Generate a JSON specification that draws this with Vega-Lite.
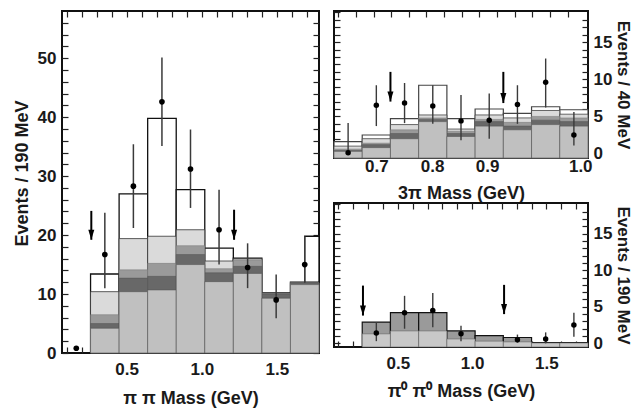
{
"$schema":"https://vega.github.io/schema/vega-lite/v6.json",
"padding":{"left":12,"top":9,"right":0,"bottom":0},
"spacing":11,
"config":{"font":"Liberation Sans","view":{"stroke":"#111","strokeWidth":2},
"axis":{"domain":false,"grid":false,"tickColor":"#222","tickWidth":1.2,"tickSize":-6,"labelFont":"Liberation Sans","labelFontWeight":"bold","labelFontSize":17,"labelColor":"#1a1a1a","titleFont":"Liberation Sans","titleFontWeight":"bold","titleFontSize":18,"titleColor":"#1a1a1a","labelPadding":14,"labelOverlap":false,"labelFlush":false,"labelBound":false}},
"datasets":{
"lb":[
{"lo":1.685,"hi":1.78,"outline":19.8},
{"lo":0.26,"hi":0.45,"outline":13.4,"hatch":10.4,"dotted":6.5,"dark":5.0,"cross":4.2},
{"lo":0.45,"hi":0.64,"outline":27.0,"hatch":19.4,"dotted":14.1,"dark":12.7,"cross":10.4},
{"lo":0.64,"hi":0.83,"outline":39.8,"hatch":19.8,"dotted":15.2,"dark":13.0,"cross":10.7},
{"lo":0.83,"hi":1.02,"outline":27.7,"hatch":20.9,"dotted":18.2,"dark":16.7,"cross":15.0},
{"lo":1.02,"hi":1.21,"outline":17.8,"hatch":15.6,"dotted":14.3,"dark":13.6,"cross":12.1},
{"lo":1.21,"hi":1.40,"outline":16.1,"hatch":16.0,"dotted":15.8,"dark":14.7,"cross":13.5},
{"lo":1.40,"hi":1.59,"outline":10.2,"hatch":10.1,"dotted":10.1,"dark":10.0,"cross":9.3},
{"lo":1.59,"hi":1.78,"outline":12.0,"hatch":11.95,"dotted":11.9,"dark":11.9,"cross":11.6}],
"lp":[
{"x":0.165,"y":0.8},
{"x":0.355,"y":16.7,"lo":11.0,"hi":23.8},
{"x":0.545,"y":28.3,"lo":21.2,"hi":35.4},
{"x":0.735,"y":42.6,"lo":35.1,"hi":50.1},
{"x":0.925,"y":31.2,"lo":24.6,"hi":37.9},
{"x":1.115,"y":20.9,"lo":15.0,"hi":27.7},
{"x":1.305,"y":14.5,"lo":11.0,"hi":18.6},
{"x":1.495,"y":9.0,"lo":5.9,"hi":13.3},
{"x":1.685,"y":15.0,"lo":11.9,"hi":19.8}],
"la":[{"x":0.265,"top":24.1,"tip":19.2},{"x":1.215,"top":24.3,"tip":19.2}],
"tb":[
{"lo":0.64,"hi":0.68,"outline":1.6,"hatch":1.0,"dotted":0.6,"dark":0.4,"cross":0.3},
{"lo":0.68,"hi":0.72,"outline":2.5,"hatch":2.0,"dotted":1.4,"dark":1.2,"cross":0.8},
{"lo":0.72,"hi":0.76,"outline":4.7,"hatch":3.9,"dotted":3.2,"dark":2.7,"cross":2.0},
{"lo":0.76,"hi":0.80,"outline":9.2,"hatch":5.2,"dotted":4.8,"dark":4.6,"cross":4.3},
{"lo":0.80,"hi":0.84,"outline":4.7,"hatch":3.3,"dotted":3.0,"dark":2.7,"cross":2.3},
{"lo":0.84,"hi":0.88,"outline":6.0,"hatch":5.2,"dotted":4.6,"dark":4.3,"cross":3.7},
{"lo":0.88,"hi":0.92,"outline":5.4,"hatch":4.8,"dotted":4.2,"dark":3.7,"cross":3.2},
{"lo":0.92,"hi":0.96,"outline":6.3,"hatch":5.8,"dotted":5.0,"dark":4.5,"cross":3.9},
{"lo":0.96,"hi":1.00,"outline":5.9,"hatch":5.3,"dotted":4.8,"dark":4.3,"cross":3.7}],
"tp":[
{"x":0.66,"y":0.1,"lo":0.0,"hi":4.1},
{"x":0.70,"y":6.5,"lo":3.7,"hi":9.2},
{"x":0.74,"y":6.8,"lo":4.1,"hi":9.5},
{"x":0.78,"y":6.4,"lo":4.0,"hi":9.2},
{"x":0.82,"y":4.4,"lo":1.8,"hi":7.9},
{"x":0.86,"y":4.5,"lo":2.0,"hi":8.1},
{"x":0.90,"y":6.6,"lo":4.0,"hi":9.2},
{"x":0.94,"y":9.6,"lo":6.2,"hi":12.8},
{"x":0.98,"y":2.5,"lo":1.1,"hi":5.6}],
"ta":[{"x":0.72,"top":11.0,"tip":7.0},{"x":0.88,"top":11.0,"tip":6.8}],
"bb":[
{"lo":0.26,"hi":0.45,"outline":2.9,"cross":1.3},
{"lo":0.45,"hi":0.64,"outline":4.2,"cross":1.7},
{"lo":0.64,"hi":0.83,"outline":4.2,"cross":1.7},
{"lo":0.83,"hi":1.02,"outline":1.7,"cross":0.6},
{"lo":1.02,"hi":1.21,"outline":1.05,"cross":0.3},
{"lo":1.21,"hi":1.40,"outline":0.8,"cross":0.2},
{"lo":1.40,"hi":1.59,"outline":0.1,"cross":0.05},
{"lo":1.59,"hi":1.78,"outline":0.1,"cross":0.05}],
"bp":[
{"x":0.355,"y":1.4,"lo":0.3,"hi":2.9},
{"x":0.545,"y":4.2,"lo":2.0,"hi":6.5},
{"x":0.735,"y":4.5,"lo":2.2,"hi":6.9},
{"x":0.925,"y":1.3,"lo":0.3,"hi":2.4},
{"x":1.305,"y":0.5,"lo":0.1,"hi":1.2},
{"x":1.495,"y":0.6,"lo":0.0,"hi":1.5},
{"x":1.685,"y":2.5,"lo":0.9,"hi":4.2}],
"ba":[{"x":0.265,"top":7.9,"tip":3.8},{"x":1.215,"top":8.0,"tip":4.0}]
},
"hconcat":[
{"width":257,"height":342,
"resolve":{"axis":{"x":"independent","y":"independent"}},
"layer":[
{"data":{"name":"lb"},"mark":{"type":"rect","fill":"white","stroke":"#111","strokeWidth":1.3},
"encoding":{
"x":{"field":"lo","type":"quantitative","scale":{"domain":[0.07,1.78],"nice":false,"zero":false},
"axis":{"orient":"bottom","values":[0.1,0.2,0.3,0.4,0.5,0.6,0.7,0.8,0.9,1.0,1.1,1.2,1.3,1.4,1.5,1.6,1.7],"labelExpr":"(datum.value==0.5||datum.value==1||datum.value==1.5)?format(datum.value,'.1f'):''","title":"π π  Mass (GeV)","titlePadding":12}},
"x2":{"field":"hi"},
"y":{"field":"outline","type":"quantitative","scale":{"domain":[0,58],"nice":false,"zero":false},
"axis":{"orient":"left","values":[0,2,4,6,8,10,12,14,16,18,20,22,24,26,28,30,32,34,36,38,40,42,44,46,48,50,52,54,56],"labelExpr":"datum.value%10==0?datum.label:''","labelPadding":12,"title":"Events / 190 MeV","titlePadding":6,"titleY":162}},
"y2":{"datum":0}}},
{"data":{"name":"lb"},"mark":{"type":"rect","fill":"#dadada","stroke":"#333","strokeWidth":0.8},
"encoding":{
"x":{"field":"lo","type":"quantitative","scale":{"domain":[0.07,1.78],"nice":false,"zero":false},
"axis":{"orient":"top","values":[0.1,0.2,0.3,0.4,0.5,0.6,0.7,0.8,0.9,1.0,1.1,1.2,1.3,1.4,1.5,1.6,1.7],"labels":false,"title":null}},
"x2":{"field":"hi"},
"y":{"field":"hatch","type":"quantitative","scale":{"domain":[0,58],"nice":false,"zero":false},
"axis":{"orient":"right","values":[0,2,4,6,8,10,12,14,16,18,20,22,24,26,28,30,32,34,36,38,40,42,44,46,48,50,52,54,56],"labels":false,"title":null}},
"y2":{"datum":0}}},
{"data":{"name":"lb"},"mark":{"type":"rect","fill":"#9a9a9a","stroke":"#777","strokeWidth":0.5},
"encoding":{"x":{"field":"lo","type":"quantitative","scale":{"domain":[0.07,1.78],"nice":false,"zero":false},"axis":null},"x2":{"field":"hi"},
"y":{"field":"dotted","type":"quantitative","scale":{"domain":[0,58],"nice":false,"zero":false},"axis":null},"y2":{"datum":0}}},
{"data":{"name":"lb"},"mark":{"type":"rect","fill":"#686868","stroke":"#555","strokeWidth":0.5},
"encoding":{"x":{"field":"lo","type":"quantitative","scale":{"domain":[0.07,1.78],"nice":false,"zero":false},"axis":null},"x2":{"field":"hi"},
"y":{"field":"dark","type":"quantitative","scale":{"domain":[0,58],"nice":false,"zero":false},"axis":null},"y2":{"datum":0}}},
{"data":{"name":"lb"},"mark":{"type":"rect","fill":"#c0c0c0","stroke":"#555","strokeWidth":0.6},
"encoding":{"x":{"field":"lo","type":"quantitative","scale":{"domain":[0.07,1.78],"nice":false,"zero":false},"axis":null},"x2":{"field":"hi"},
"y":{"field":"cross","type":"quantitative","scale":{"domain":[0,58],"nice":false,"zero":false},"axis":null},"y2":{"datum":0}}},
{"data":{"name":"lp"},"mark":{"type":"rule","color":"#3a3a3a","strokeWidth":1.5},
"encoding":{"x":{"field":"x","type":"quantitative","scale":{"domain":[0.07,1.78],"nice":false,"zero":false},"axis":null},
"y":{"field":"lo","type":"quantitative","scale":{"domain":[0,58],"nice":false,"zero":false},"axis":null},"y2":{"field":"hi"}}},
{"data":{"name":"lp"},"mark":{"type":"point","filled":true,"color":"#000","size":32,"opacity":1},
"encoding":{"x":{"field":"x","type":"quantitative","scale":{"domain":[0.07,1.78],"nice":false,"zero":false},"axis":null},
"y":{"field":"y","type":"quantitative","scale":{"domain":[0,58],"nice":false,"zero":false},"axis":null}}},
{"data":{"name":"la"},"mark":{"type":"rule","color":"#000","strokeWidth":2},
"encoding":{"x":{"field":"x","type":"quantitative","scale":{"domain":[0.07,1.78],"nice":false,"zero":false},"axis":null},
"y":{"field":"top","type":"quantitative","scale":{"domain":[0,58],"nice":false,"zero":false},"axis":null},"y2":{"field":"tip"}}},
{"data":{"name":"la"},"mark":{"type":"point","filled":true,"color":"#000","size":100,"opacity":1,"shape":"M-0.6,-1L0.6,-1L0,1Z","yOffset":-5},
"encoding":{"x":{"field":"x","type":"quantitative","scale":{"domain":[0.07,1.78],"nice":false,"zero":false},"axis":null},
"y":{"field":"tip","type":"quantitative","scale":{"domain":[0,58],"nice":false,"zero":false},"axis":null}}}
]},
{"spacing":-4,
"vconcat":[
{"width":254,"height":147,
"resolve":{"axis":{"x":"independent","y":"independent"}},
"layer":[
{"data":{"name":"tb"},"mark":{"type":"rect","fill":"white","stroke":"#444","strokeWidth":1.2},
"encoding":{
"x":{"field":"lo","type":"quantitative","scale":{"domain":[0.64,1.0],"nice":false,"zero":false},
"axis":{"orient":"bottom","values":[0.70,0.779,0.857,0.989],"ticks":false,"labelPadding":0,"labelExpr":"datum.value<0.75?'0.7':datum.value<0.82?'0.8':datum.value<0.9?'0.9':'1.0'","title":"3π  Mass (GeV)","titlePadding":10}},
"x2":{"field":"hi"},
"y":{"field":"outline","type":"quantitative","scale":{"domain":[-0.6,19.2],"nice":false,"zero":false},
"axis":{"orient":"right","values":[0,1,2,3,4,5,6,7,8,9,10,11,12,13,14,15,16,17,18],"labelExpr":"datum.value%5==0?datum.label:''","labelPadding":11,"title":"Events / 40 MeV","titleFontSize":17,"titlePadding":2}},
"y2":{"datum":-0.6}}},
{"data":{"name":"tb"},"mark":{"type":"rect","fill":"#dadada","stroke":"#444","strokeWidth":0.8},
"encoding":{
"x":{"field":"lo","type":"quantitative","scale":{"domain":[0.64,1.0],"nice":false,"zero":false},
"axis":{"orient":"top","values":[0.646,0.671,0.696,0.721,0.746,0.771,0.796,0.821,0.846,0.871,0.896,0.921,0.946,0.971],"labels":false,"title":null}},
"x2":{"field":"hi"},
"y":{"field":"hatch","type":"quantitative","scale":{"domain":[-0.6,19.2],"nice":false,"zero":false},
"axis":{"orient":"left","values":[0,1,2,3,4,5,6,7,8,9,10,11,12,13,14,15,16,17,18,19],"labels":false,"title":null}},
"y2":{"datum":-0.6}}},
{"data":{"name":"tb"},"mark":{"type":"rect","fill":"#9a9a9a","stroke":"#777","strokeWidth":0.5},
"encoding":{"x":{"field":"lo","type":"quantitative","scale":{"domain":[0.64,1.0],"nice":false,"zero":false},
"axis":{"orient":"bottom","values":[0.646,0.671,0.696,0.721,0.746,0.771,0.796,0.821,0.846,0.871,0.896,0.921,0.946,0.971],"labels":false,"title":null}},"x2":{"field":"hi"},
"y":{"field":"dotted","type":"quantitative","scale":{"domain":[-0.6,19.2],"nice":false,"zero":false},"axis":null},"y2":{"datum":-0.6}}},
{"data":{"name":"tb"},"mark":{"type":"rect","fill":"#686868","stroke":"#555","strokeWidth":0.5},
"encoding":{"x":{"field":"lo","type":"quantitative","scale":{"domain":[0.64,1.0],"nice":false,"zero":false},"axis":null},"x2":{"field":"hi"},
"y":{"field":"dark","type":"quantitative","scale":{"domain":[-0.6,19.2],"nice":false,"zero":false},"axis":null},"y2":{"datum":-0.6}}},
{"data":{"name":"tb"},"mark":{"type":"rect","fill":"#c0c0c0","stroke":"#555","strokeWidth":0.6},
"encoding":{"x":{"field":"lo","type":"quantitative","scale":{"domain":[0.64,1.0],"nice":false,"zero":false},"axis":null},"x2":{"field":"hi"},
"y":{"field":"cross","type":"quantitative","scale":{"domain":[-0.6,19.2],"nice":false,"zero":false},"axis":null},"y2":{"datum":-0.6}}},
{"data":{"name":"tp"},"mark":{"type":"rule","color":"#3a3a3a","strokeWidth":1.4},
"encoding":{"x":{"field":"x","type":"quantitative","scale":{"domain":[0.64,1.0],"nice":false,"zero":false},"axis":null},
"y":{"field":"lo","type":"quantitative","scale":{"domain":[-0.6,19.2],"nice":false,"zero":false},"axis":null},"y2":{"field":"hi"}}},
{"data":{"name":"tp"},"mark":{"type":"point","filled":true,"color":"#000","size":30,"opacity":1},
"encoding":{"x":{"field":"x","type":"quantitative","scale":{"domain":[0.64,1.0],"nice":false,"zero":false},"axis":null},
"y":{"field":"y","type":"quantitative","scale":{"domain":[-0.6,19.2],"nice":false,"zero":false},"axis":null}}},
{"data":{"name":"ta"},"mark":{"type":"rule","color":"#000","strokeWidth":2},
"encoding":{"x":{"field":"x","type":"quantitative","scale":{"domain":[0.64,1.0],"nice":false,"zero":false},"axis":null},
"y":{"field":"top","type":"quantitative","scale":{"domain":[-0.6,19.2],"nice":false,"zero":false},"axis":null},"y2":{"field":"tip"}}},
{"data":{"name":"ta"},"mark":{"type":"point","filled":true,"color":"#000","size":100,"opacity":1,"shape":"M-0.6,-1L0.6,-1L0,1Z","yOffset":-5},
"encoding":{"x":{"field":"x","type":"quantitative","scale":{"domain":[0.64,1.0],"nice":false,"zero":false},"axis":null},
"y":{"field":"tip","type":"quantitative","scale":{"domain":[-0.6,19.2],"nice":false,"zero":false},"axis":null}}}
]},
{"width":254,"height":144,
"resolve":{"axis":{"x":"independent","y":"independent"}},
"layer":[
{"data":{"name":"bb"},"mark":{"type":"rect","fill":"#9a9a9a","stroke":"#111","strokeWidth":1.2},
"encoding":{
"x":{"field":"lo","type":"quantitative","scale":{"domain":[0.07,1.78],"nice":false,"zero":false},
"axis":{"orient":"bottom","values":[0.1,0.2,0.3,0.4,0.5,0.6,0.7,0.8,0.9,1.0,1.1,1.2,1.3,1.4,1.5,1.6,1.7],"labelExpr":"(datum.value==0.5||datum.value==1||datum.value==1.5)?format(datum.value,'.1f'):''","title":"π⁰ π⁰  Mass (GeV)","titlePadding":11}},
"x2":{"field":"hi"},
"y":{"field":"outline","type":"quantitative","scale":{"domain":[-0.5,19.2],"nice":false,"zero":false},
"axis":{"orient":"right","values":[0,1,2,3,4,5,6,7,8,9,10,11,12,13,14,15,16,17,18],"labelExpr":"datum.value%5==0?datum.label:''","labelPadding":11,"title":"Events / 190 MeV","titleFontSize":17,"titlePadding":2}},
"y2":{"datum":-0.5}}},
{"data":{"name":"bb"},"mark":{"type":"rect","fill":"#c8c8c8","stroke":"#666","strokeWidth":0.6},
"encoding":{
"x":{"field":"lo","type":"quantitative","scale":{"domain":[0.07,1.78],"nice":false,"zero":false},
"axis":{"orient":"top","values":[0.1,0.2,0.3,0.4,0.5,0.6,0.7,0.8,0.9,1.0,1.1,1.2,1.3,1.4,1.5,1.6,1.7],"labels":false,"title":null}},
"x2":{"field":"hi"},
"y":{"field":"cross","type":"quantitative","scale":{"domain":[-0.5,19.2],"nice":false,"zero":false},
"axis":{"orient":"left","values":[0,1,2,3,4,5,6,7,8,9,10,11,12,13,14,15,16,17,18,19],"labels":false,"title":null}},
"y2":{"datum":-0.5}}},
{"data":{"name":"bp"},"mark":{"type":"rule","color":"#3a3a3a","strokeWidth":1.4},
"encoding":{"x":{"field":"x","type":"quantitative","scale":{"domain":[0.07,1.78],"nice":false,"zero":false},"axis":null},
"y":{"field":"lo","type":"quantitative","scale":{"domain":[-0.5,19.2],"nice":false,"zero":false},"axis":null},"y2":{"field":"hi"}}},
{"data":{"name":"bp"},"mark":{"type":"point","filled":true,"color":"#000","size":30,"opacity":1},
"encoding":{"x":{"field":"x","type":"quantitative","scale":{"domain":[0.07,1.78],"nice":false,"zero":false},"axis":null},
"y":{"field":"y","type":"quantitative","scale":{"domain":[-0.5,19.2],"nice":false,"zero":false},"axis":null}}},
{"data":{"name":"ba"},"mark":{"type":"rule","color":"#000","strokeWidth":2},
"encoding":{"x":{"field":"x","type":"quantitative","scale":{"domain":[0.07,1.78],"nice":false,"zero":false},"axis":null},
"y":{"field":"top","type":"quantitative","scale":{"domain":[-0.5,19.2],"nice":false,"zero":false},"axis":null},"y2":{"field":"tip"}}},
{"data":{"name":"ba"},"mark":{"type":"point","filled":true,"color":"#000","size":100,"opacity":1,"shape":"M-0.6,-1L0.6,-1L0,1Z","yOffset":-5},
"encoding":{"x":{"field":"x","type":"quantitative","scale":{"domain":[0.07,1.78],"nice":false,"zero":false},"axis":null},
"y":{"field":"tip","type":"quantitative","scale":{"domain":[-0.5,19.2],"nice":false,"zero":false},"axis":null}}}
]}
]}
]
}
